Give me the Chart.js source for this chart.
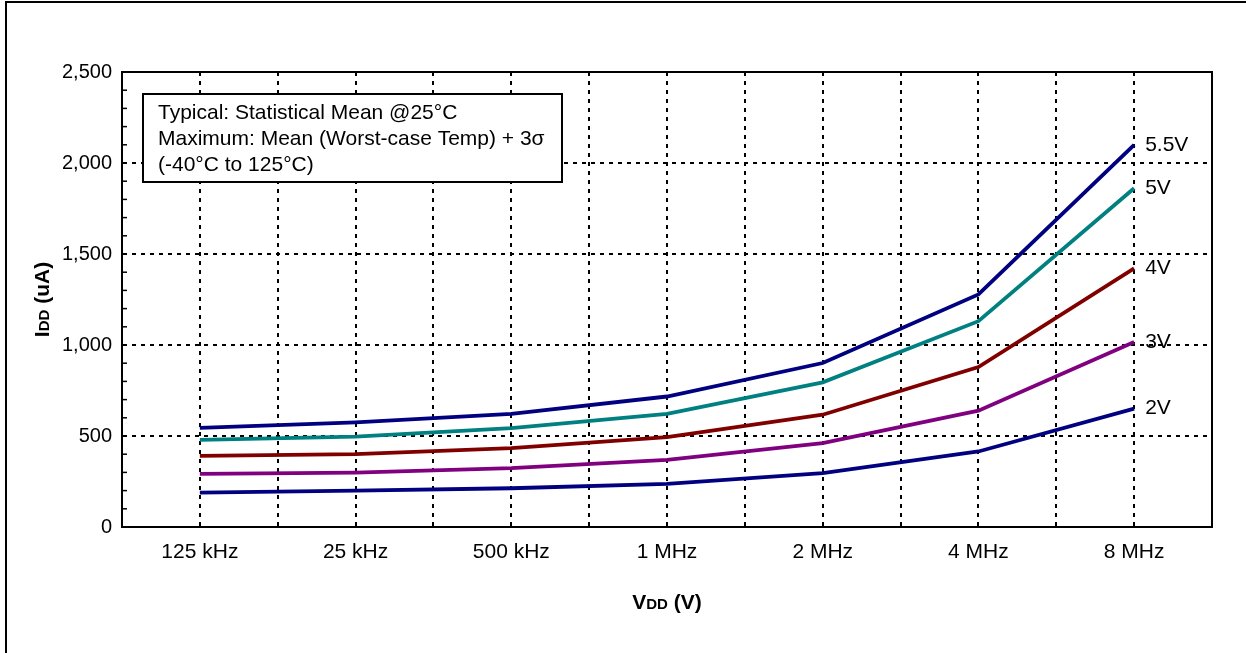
<!DOCTYPE html>
<html><head><meta charset="utf-8">
<script src="https://cdn.jsdelivr.net/npm/chart.js@4.4.0/dist/chart.umd.min.js"></script>
<style>html,body{margin:0;padding:0;background:#fff}#wrap{width:1246px;height:653px;position:relative}canvas{display:block}</style>
</head><body><div id="wrap"><canvas id="c" width="1246" height="653"></canvas></div>
<script>
const categories = ['125 kHz', '25 kHz', '500 kHz', '1 MHz', '2 MHz', '4 MHz', '8 MHz'];
const seriesNames = ['5.5V', '5V', '4V', '3V', '2V'];
const v55 = [545, 575, 622, 717, 901, 1278, 2100];
const v50 = [479, 497, 543, 622, 795, 1131, 1861];
const v40 = [391, 400, 433, 494, 617, 879, 1421];
const v30 = [292, 299, 323, 369, 461, 639, 1017];
const v20 = [189, 200, 213, 237, 296, 415, 650];
const seriesColors = ['#000080', '#008080', '#800000', '#800080', '#000080'];
const yMajorTicks = [0, 500, 1000, 1500, 2000, 2500];
const yMin = 0, yMax = 2500, yMinorStep = 100;
const noteLines = ['Typical: Statistical Mean @25°C', 'Maximum: Mean (Worst-case Temp) + 3σ', '(-40°C to 125°C)'];
const yTitleParts = [['I', 21], ['DD', 15], [' (uA)', 21]];
const xTitleParts = [['V', 21], ['DD', 15], [' (V)', 21]];

const FONT = "'Liberation Sans', Arial, Helvetica, sans-serif";
const allSeries = [v55, v50, v40, v30, v20];

const datasets = allSeries.map((arr, i) => ({
  label: seriesNames[i],
  data: arr.map((v, k) => ({ x: k, y: v })),
  borderColor: seriesColors[i],
  backgroundColor: seriesColors[i],
  borderWidth: 3.8,
  pointRadius: 0,
  tension: 0,
  fill: false
}));

function drawParts(ctx, parts, cx, cy) {
  let total = 0;
  parts.forEach(([t, s]) => { ctx.font = 'bold ' + s + 'px ' + FONT; total += ctx.measureText(t).width; });
  let x = cx - total / 2;
  ctx.textAlign = 'left';
  ctx.textBaseline = 'alphabetic';
  parts.forEach(([t, s]) => { ctx.font = 'bold ' + s + 'px ' + FONT; ctx.fillText(t, x, cy); x += ctx.measureText(t).width; });
}

const decor = {
  id: 'decor',
  beforeDraw(chart) {
    const ctx = chart.ctx;
    ctx.save();
    ctx.fillStyle = '#fff';
    ctx.fillRect(0, 0, chart.width, chart.height);
    ctx.fillStyle = '#000';
    ctx.fillRect(5, 1, 2, chart.height);
    ctx.fillRect(5, 1, chart.width, 2);
    ctx.restore();
  },
  afterDatasetsDraw(chart) {
    const ctx = chart.ctx;
    const a = chart.chartArea;
    const ys = chart.scales.y;
    ctx.save();
    ctx.strokeStyle = '#000';
    ctx.lineWidth = 1.5;
    ys.ticks.forEach(t => {
      if (t.value === yMin || t.value === yMax) return;
      const py = ys.getPixelForValue(t.value);
      ctx.beginPath();
      ctx.moveTo(a.left, py);
      ctx.lineTo(a.left + 5, py);
      ctx.stroke();
    });
    ctx.lineWidth = 2;
    ctx.strokeRect(a.left, a.top, a.right - a.left, a.bottom - a.top);
    ctx.fillStyle = '#000';
    ctx.font = '21px ' + FONT;
    ctx.textAlign = 'left';
    ctx.textBaseline = 'middle';
    chart.data.datasets.forEach((ds, i) => {
      const meta = chart.getDatasetMeta(i);
      const p = meta.data[meta.data.length - 1];
      ctx.fillText(ds.label, p.x + 11, p.y);
    });
    ctx.fillStyle = '#fff';
    ctx.fillRect(143, 94, 419, 88);
    ctx.strokeRect(143, 94, 419, 88);
    ctx.fillStyle = '#000';
    ctx.textBaseline = 'alphabetic';
    noteLines.forEach((l, i) => ctx.fillText(l, 158, 119 + i * 26));
    drawParts(ctx, xTitleParts, (a.left + a.right) / 2, 609);
    ctx.translate(49, (a.top + a.bottom) / 2);
    ctx.rotate(-Math.PI / 2);
    drawParts(ctx, yTitleParts, 0, 0);
    ctx.restore();
  }
};

Chart.defaults.color = '#000';
Chart.defaults.font.family = FONT;
Chart.defaults.font.size = 20;

new Chart(document.getElementById('c'), {
  type: 'line',
  data: { datasets },
  options: {
    responsive: false,
    animation: false,
    devicePixelRatio: 1,
    layout: { padding: { left: 0, right: 34, top: 72, bottom: 0 } },
    plugins: { legend: { display: false }, tooltip: { enabled: false }, title: { display: false } },
    scales: {
      x: {
        type: 'linear',
        min: -0.5,
        max: categories.length - 0.5,
        afterFit(s) { s.height = 126; },
        ticks: {
          stepSize: 0.5,
          autoSkip: false,
          maxRotation: 0,
          padding: 13,
          font: { size: 21 },
          callback: (v) => Number.isInteger(v) ? categories[v] : ''
        },
        grid: {
          drawTicks: false,
          lineWidth: 2,
          color: (c) => (c.tick && (c.tick.value <= -0.5 || c.tick.value >= categories.length - 0.5)) ? 'rgba(0,0,0,0)' : '#000'
        },
        border: { display: true, color: '#000', width: 2, dash: [4, 5] }
      },
      y: {
        type: 'linear',
        min: yMin,
        max: yMax,
        afterFit(s) { s.width = 122; },
        ticks: {
          stepSize: yMinorStep,
          autoSkip: false,
          padding: 10,
          callback: (v) => yMajorTicks.includes(v) ? v.toLocaleString('en-US') : ''
        },
        grid: {
          drawTicks: false,
          lineWidth: 2,
          color: (c) => (c.tick && yMajorTicks.includes(c.tick.value) && c.tick.value !== yMin && c.tick.value !== yMax) ? '#000' : 'rgba(0,0,0,0)'
        },
        border: { display: true, color: '#000', width: 2, dash: [4, 5] }
      }
    }
  },
  plugins: [decor]
});
</script>
</body></html>
